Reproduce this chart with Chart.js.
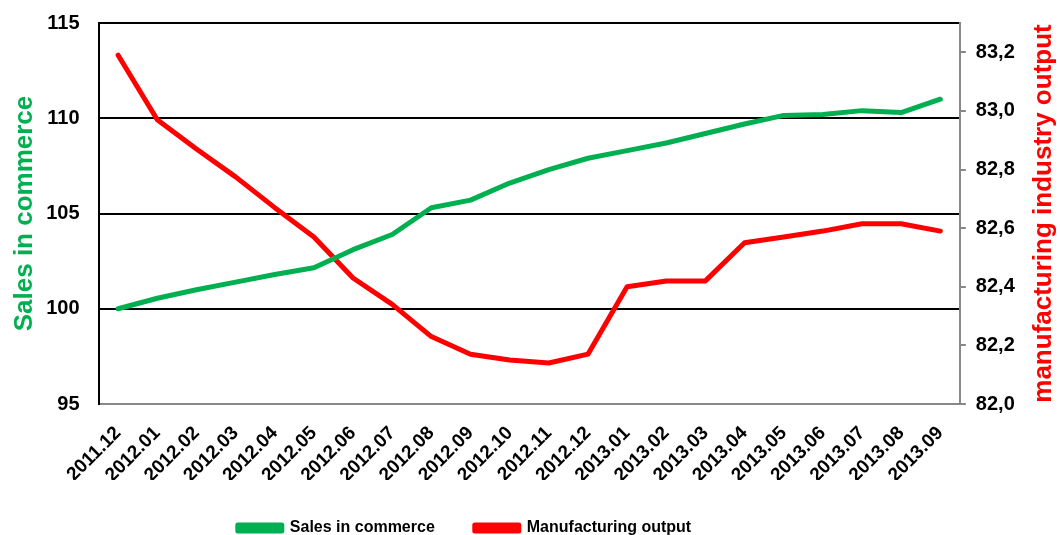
<!DOCTYPE html>
<html>
<head>
<meta charset="utf-8">
<script src="https://cdn.jsdelivr.net/npm/chart.js@4"></script>
<style>
  html, body { margin: 0; padding: 0; background: #fff; }
  #wrap { width: 1060px; height: 535px; position: relative; }
</style>
</head>
<body>
<div id="wrap"><canvas id="c" width="1060" height="535"></canvas></div>
<script>
const categories = ["2011.12","2012.01","2012.02","2012.03","2012.04","2012.05","2012.06","2012.07","2012.08","2012.09","2012.10","2012.11","2012.12","2013.01","2013.02","2013.03","2013.04","2013.05","2013.06","2013.07","2013.08","2013.09"];
const salesInCommerce = [100.0,100.55,101.0,101.4,101.8,102.15,103.1,103.9,105.3,105.7,106.6,107.3,107.9,108.3,108.7,109.2,109.7,110.15,110.2,110.4,110.3,111.0];
const manufacturingOutput = [83.19,82.97,82.87,82.775,82.67,82.57,82.43,82.34,82.23,82.17,82.15,82.14,82.17,82.40,82.42,82.42,82.55,82.57,82.59,82.615,82.615,82.59];
const leftTicks = [95,100,105,110,115];
const rightTicks = [82.0,82.2,82.4,82.6,82.8,83.0,83.2];
const leftTitle = 'Sales in commerce';
const rightTitle = 'manufacturing industry output';

const FONT = "'Liberation Sans', Arial, sans-serif";
const GREEN = "#00B050";
const RED = "#FF0000";
const TITLE_SIZE = 26;

// Right axis title reads bottom-to-top like the left one: draw it rotated -90deg
// in the space Chart.js reserves for the (transparent) right title.
const rightTitlePlugin = {
  id: 'rightTitle',
  afterDraw(chart) {
    const s = chart.scales.y1;
    const ctx = chart.ctx;
    const lh = TITLE_SIZE * 1.2;
    const cx = s.right - lh / 2 - 1;
    const cy = (s.top + s.bottom) / 2;
    ctx.save();
    ctx.translate(cx, cy);
    ctx.rotate(-Math.PI / 2);
    ctx.font = 'bold ' + TITLE_SIZE + 'px ' + FONT;
    ctx.fillStyle = RED;
    ctx.textAlign = 'center';
    ctx.textBaseline = 'middle';
    ctx.fillText(rightTitle, 0, 0);
    ctx.restore();
  }
};

// Shift the legend block to sit left of centre, as in the reference.
const legendShift = {
  id: 'legendShift',
  afterLayout(chart) {
    if (chart.legend) { chart.legend.right -= 140; }
  }
};

new Chart(document.getElementById('c'), {
  type: 'line',
  data: {
    labels: categories,
    datasets: [
      { label: 'Sales in commerce', data: salesInCommerce, yAxisID: 'y',
        borderColor: GREEN, backgroundColor: GREEN, borderWidth: 5,
        pointRadius: 0, tension: 0, borderCapStyle: 'round', borderJoinStyle: 'round' },
      { label: 'Manufacturing output', data: manufacturingOutput, yAxisID: 'y1',
        borderColor: RED, backgroundColor: RED, borderWidth: 5,
        pointRadius: 0, tension: 0, borderCapStyle: 'round', borderJoinStyle: 'round' }
    ]
  },
  plugins: [rightTitlePlugin, legendShift],
  options: {
    responsive: false,
    animation: false,
    layout: { padding: { top: 23, right: 0, left: 9, bottom: -11 } },
    plugins: {
      tooltip: { enabled: false },
      legend: {
        position: 'bottom',
        labels: {
          font: { family: FONT, size: 16, weight: 'bold' },
          color: '#000',
          boxWidth: 44,
          boxHeight: 6,
          padding: 40
        }
      }
    },
    scales: {
      x: {
        offset: true,
        grid: { display: false, drawTicks: false },
        border: { color: '#888', width: 2 },
        ticks: {
          font: { family: FONT, size: 19, weight: 'bold' },
          color: '#000',
          maxRotation: 45, minRotation: 45,
          autoSkip: false,
          padding: 18
        },
        afterFit: (scale) => { scale.height = 76; }
      },
      y: {
        position: 'left',
        min: 95, max: 115,
        afterBuildTicks: (axis) => { axis.ticks = leftTicks.map(v => ({ value: v })); },
        grid: {
          color: (ctx) => (ctx.tick && ctx.tick.value === 95) ? 'rgba(0,0,0,0)' : '#000',
          lineWidth: 2,
          drawTicks: true,
          tickLength: 16,
          tickColor: 'rgba(0,0,0,0)'
        },
        border: { color: '#000', width: 2 },
        ticks: {
          font: { family: FONT, size: 20, weight: 'bold' },
          color: '#000',
          padding: 3,
          callback: (v) => String(v)
        },
        title: {
          display: true,
          text: leftTitle,
          color: GREEN,
          font: { family: FONT, size: TITLE_SIZE, weight: 'bold' },
          padding: { top: 0, bottom: 3 }
        }
      },
      y1: {
        position: 'right',
        min: 82.0, max: 83.3,
        afterBuildTicks: (axis) => { axis.ticks = rightTicks.map(v => ({ value: v })); },
        grid: { drawOnChartArea: false, color: '#888', lineWidth: 2, tickLength: 6 },
        border: { color: '#888', width: 2 },
        ticks: {
          font: { family: FONT, size: 20, weight: 'bold' },
          color: '#000',
          padding: 10,
          callback: (v) => v.toFixed(1).replace('.', ',')
        },
        title: {
          display: true,
          text: rightTitle,
          color: 'rgba(0,0,0,0)',
          font: { family: FONT, size: TITLE_SIZE, weight: 'bold' },
          padding: { top: 4, bottom: 0 }
        }
      }
    }
  }
});
</script>
</body>
</html>
